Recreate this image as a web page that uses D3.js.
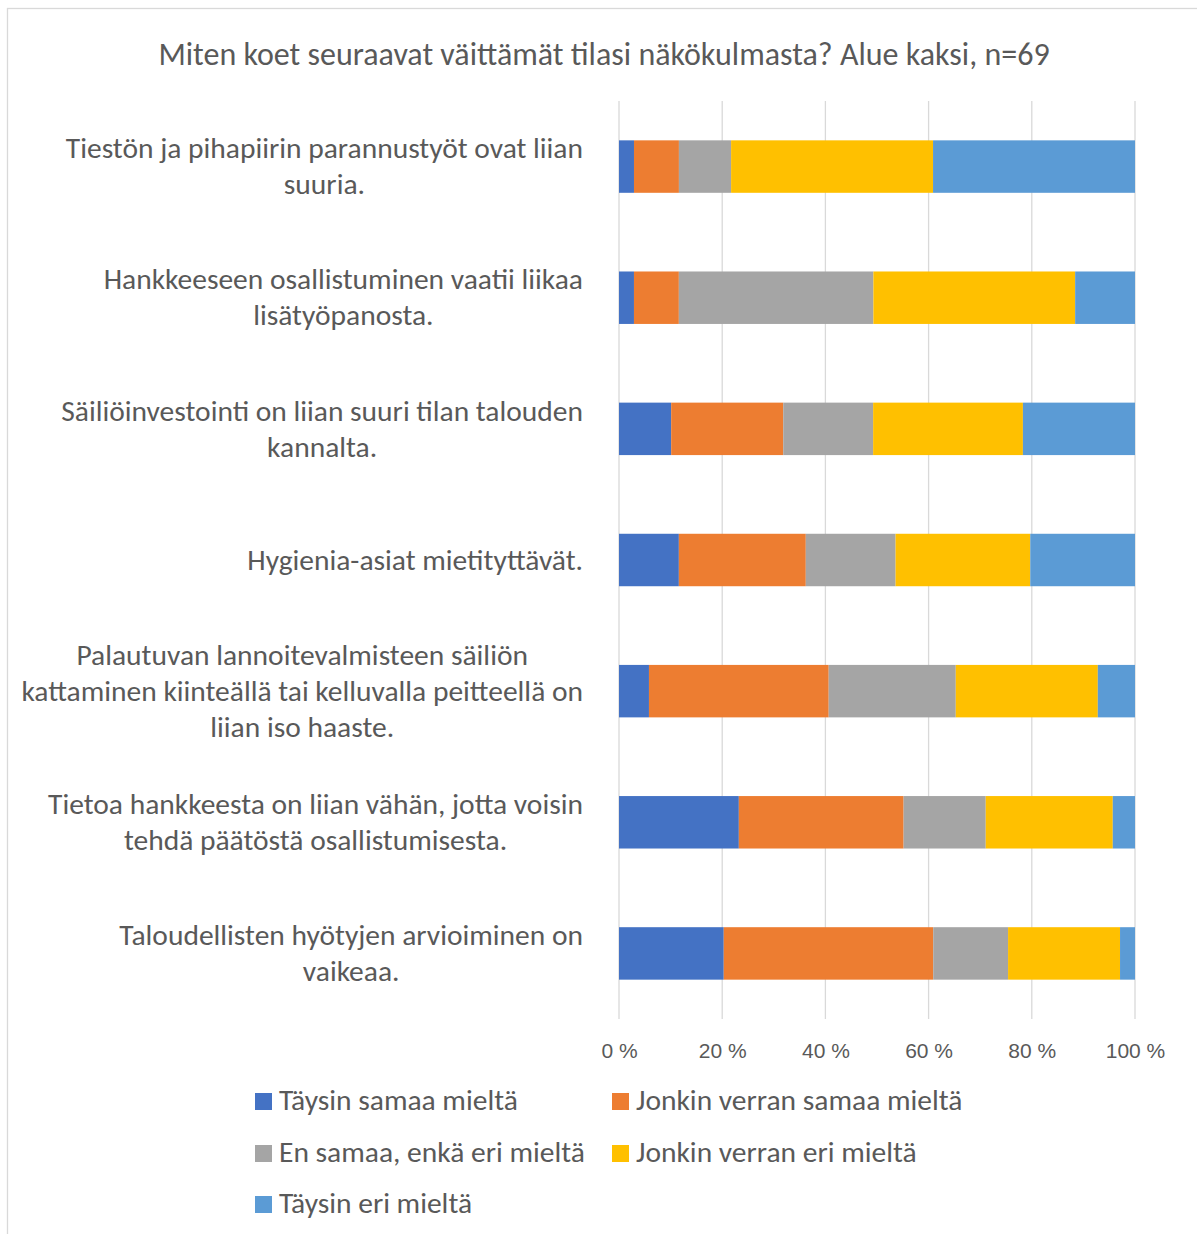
<!DOCTYPE html>
<html lang="fi">
<head>
<meta charset="utf-8">
<script src="https://cdn.jsdelivr.net/npm/d3@7"></script>
<style>
  html, body { margin: 0; padding: 0; background: #fff; }
  svg { display: block; font-family: "Carlito", Lato, "Open Sans", sans-serif; }
</style>
</head>
<body>
<svg id="chart" width="1197" height="1234"></svg>
<script>
// Statements (line breaks as they wrap in the chart)
const categories = [
  "Tiestön ja pihapiirin parannustyöt ovat liian\nsuuria.",
  "Hankkeeseen osallistuminen vaatii liikaa\nlisätyöpanosta.",
  "Säiliöinvestointi on liian suuri tilan talouden\nkannalta.",
  "Hygienia-asiat mietityttävät.",
  "Palautuvan lannoitevalmisteen säiliön\nkattaminen kiinteällä tai kelluvalla peitteellä on\nliian iso haaste.",
  "Tietoa hankkeesta on liian vähän, jotta voisin\ntehdä päätöstä osallistumisesta.",
  "Taloudellisten hyötyjen arvioiminen on\nvaikeaa."
];

const seriesNames = [
  "Täysin samaa mieltä",
  "Jonkin verran samaa mieltä",
  "En samaa, enkä eri mieltä",
  "Jonkin verran eri mieltä",
  "Täysin eri mieltä"
];

// Share of respondents (%), n = 69
const taysinSamaa      = [2.9, 2.9, 10.1, 11.6, 5.8, 23.2, 20.3];
const jonkinSamaa      = [8.7, 8.7, 21.7, 24.6, 34.8, 31.9, 40.6];
const enSamaaEnkaEri   = [10.1, 37.7, 17.4, 17.4, 24.6, 15.9, 14.5];
const jonkinEri        = [39.1, 39.1, 29.0, 26.1, 27.5, 24.6, 21.7];
const taysinEri        = [39.1, 11.6, 21.7, 20.3, 7.2, 4.3, 2.9];

const tickValues = [0, 0.2, 0.4, 0.6, 0.8, 1];
const tickLabels = ["0 %", "20 %", "40 %", "60 %", "80 %", "100 %"];

const colors = ["#4472C4", "#ED7D31", "#A5A5A5", "#FFC000", "#5B9BD5"];
const title = "Miten koet seuraavat väittämät tilasi näkökulmasta? Alue kaksi, n=69";

const seriesValues = [taysinSamaa, jonkinSamaa, enSamaaEnkaEri, jonkinEri, taysinEri];
const rows = categories.map((c, i) => {
  const r = { category: c };
  seriesNames.forEach((s, j) => { r[s] = seriesValues[j][i]; });
  return r;
});

const svg = d3.select("#chart");
const textColor = "#595959";

// Outer chart frame
svg.append("rect")
  .attr("x", 7.5).attr("y", 8.5)
  .attr("width", 1300).attr("height", 1300)
  .attr("fill", "#fff")
  .attr("stroke", "#d9d9d9").attr("stroke-width", 1.3);

const plot = { left: 619, right: 1135, top: 101, bottom: 1019 };

const x = d3.scaleLinear().domain([0, 1]).range([plot.left, plot.right]);
const y = d3.scaleBand().domain(categories)
  .range([plot.top, plot.bottom]).paddingInner(0.6).paddingOuter(0.3);

// 100 % stacked layout
const stacked = d3.stack().keys(seriesNames).offset(d3.stackOffsetExpand)(rows);

// Title
svg.append("text")
  .attr("x", 604).attr("y", 65)
  .attr("text-anchor", "middle")
  .attr("fill", textColor).style("font-size", "32px")
  .text(title);

// Vertical gridlines
svg.append("g").selectAll("line")
  .data(tickValues).join("line")
  .attr("x1", d => x(d)).attr("x2", d => x(d))
  .attr("y1", plot.top).attr("y2", plot.bottom)
  .attr("stroke", "#d9d9d9").attr("stroke-width", 1.3);

// Bars
svg.append("g").selectAll("g")
  .data(stacked).join("g")
  .attr("fill", (d, i) => colors[i])
  .selectAll("rect")
  .data(d => d).join("rect")
  .attr("x", d => x(d[0]))
  .attr("width", d => x(d[1]) - x(d[0]))
  .attr("y", d => y(d.data.category))
  .attr("height", y.bandwidth());

// X axis tick labels
const xAxis = d3.axisBottom(x).tickValues(tickValues)
  .tickFormat((d, i) => tickLabels[i]).tickSize(0).tickPadding(0);
const axisG = svg.append("g")
  .attr("transform", `translate(0, 1058)`)
  .call(xAxis);
axisG.select(".domain").remove();
axisG.selectAll("text")
  .attr("dy", null).attr("y", 0)
  .attr("fill", textColor)
  .style("font-size", "21px")
  .style("font-family", null);

// Category labels: centred blocks whose right edge lines up at the axis gutter
const labelRight = 583;
const lineGap = 36;
const labelG = svg.append("g");
categories.forEach(cat => {
  const lines = cat.split("\n");
  const cy = y(cat) + y.bandwidth() / 2;
  const t = labelG.append("text")
    .attr("text-anchor", "middle")
    .attr("fill", textColor)
    .style("font-size", "29.5px");
  const spans = lines.map((ln, k) =>
    t.append("tspan")
      .attr("y", cy + (k - (lines.length - 1) / 2) * lineGap)
      .attr("dy", "0.33em")
      .text(ln));
  const maxW = d3.max(spans, s => s.node().getComputedTextLength());
  spans.forEach(s => s.attr("x", labelRight - maxW / 2));
});

// Legend
const legendCols = [255, 612];
const legendRows = [1110, 1162, 1213];
const legend = svg.append("g").selectAll("g")
  .data(seriesNames).join("g")
  .attr("transform", (d, i) =>
    `translate(${legendCols[i % 2]}, ${legendRows[Math.floor(i / 2)]})`);
legend.append("rect")
  .attr("x", 0).attr("y", -17)
  .attr("width", 17).attr("height", 17)
  .attr("fill", (d, i) => colors[i]);
legend.append("text")
  .attr("x", 24)
  .attr("fill", textColor)
  .style("font-size", "29.5px")
  .text(d => d);
</script>
</body>
</html>
